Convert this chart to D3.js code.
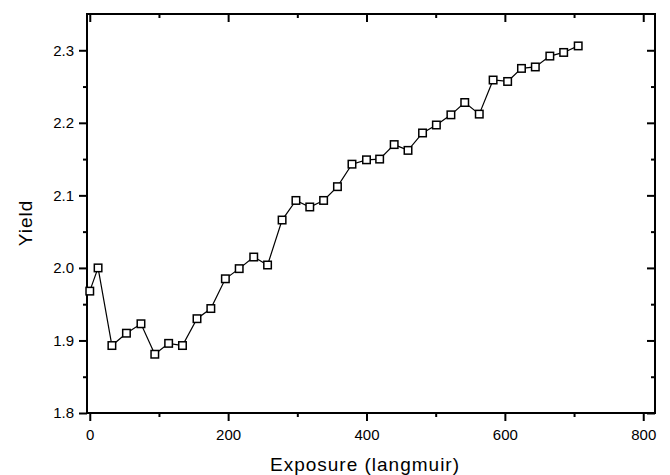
<!DOCTYPE html>
<html><head><meta charset="utf-8">
<script src="https://cdn.jsdelivr.net/npm/d3@7/dist/d3.min.js"></script>
<style>
body{margin:0;background:#fff;}
svg{display:block;}
text{font-family:"Liberation Sans",Arial,Helvetica,sans-serif;fill:#000;}
</style></head>
<body>
<svg id="chart" width="670" height="475"></svg>
<script>
const exposure = [0, 12, 32, 53, 74, 94, 114, 134, 155, 175, 196, 216, 237, 257, 278, 298, 318, 338, 358, 379, 400, 419, 440, 460, 481, 501, 522, 542, 563, 583, 604, 624, 644, 665, 685, 706];
const yieldVals = [1.968, 2.000, 1.893, 1.910, 1.923, 1.881, 1.896, 1.893, 1.930, 1.944, 1.985, 1.999, 2.015, 2.004, 2.066, 2.093, 2.084, 2.093, 2.112, 2.143, 2.149, 2.150, 2.170, 2.162, 2.186, 2.197, 2.211, 2.228, 2.212, 2.259, 2.257, 2.275, 2.277, 2.292, 2.297, 2.306];
const xMajorTicks = [0, 200, 400, 600, 800];
const xMinorTicks = [100, 300, 500, 700];
const yMajorTicks = [1.8, 1.9, 2.0, 2.1, 2.2, 2.3];
const yMinorTicks = [1.85, 1.95, 2.05, 2.15, 2.25];
const xLabel = "Exposure (langmuir)";
const yLabel = "Yield";

const svg = d3.select("#chart");
const L = 87, R = 655, T = 14, B = 413;
const x = d3.scaleLinear().domain([-4, 817]).range([L, R]);
const y = d3.scaleLinear().domain([1.8, 2.35]).range([B, T]);

function styleAxis(g){
  g.select(".domain").remove();
  g.selectAll(".tick line").attr("stroke","#000").attr("stroke-width",2);
  g.selectAll(".tick text").style("font-size","15px").attr("fill","#000");
}
// bottom
svg.append("g").attr("transform",`translate(0,${B})`)
  .call(d3.axisBottom(x).tickValues(xMajorTicks).tickSize(8).tickPadding(8).tickFormat(d3.format("d")))
  .call(styleAxis);
svg.append("g").attr("transform",`translate(0,${B})`)
  .call(d3.axisBottom(x).tickValues(xMinorTicks).tickSize(4).tickFormat(""))
  .call(styleAxis);
// top (inward)
svg.append("g").attr("transform",`translate(0,${T})`)
  .call(d3.axisBottom(x).tickValues(xMajorTicks).tickSize(8).tickFormat(""))
  .call(styleAxis);
svg.append("g").attr("transform",`translate(0,${T})`)
  .call(d3.axisBottom(x).tickValues(xMinorTicks).tickSize(4).tickFormat(""))
  .call(styleAxis);
// left
svg.append("g").attr("transform",`translate(${L},0)`)
  .call(d3.axisLeft(y).tickValues(yMajorTicks).tickSize(8).tickPadding(5).tickFormat(d3.format(".1f")))
  .call(styleAxis);
svg.append("g").attr("transform",`translate(${L},0)`)
  .call(d3.axisLeft(y).tickValues(yMinorTicks).tickSize(4).tickFormat(""))
  .call(styleAxis);
// right (inward)
svg.append("g").attr("transform",`translate(${R},0)`)
  .call(d3.axisLeft(y).tickValues(yMajorTicks).tickSize(8).tickFormat(""))
  .call(styleAxis);
svg.append("g").attr("transform",`translate(${R},0)`)
  .call(d3.axisLeft(y).tickValues(yMinorTicks).tickSize(4).tickFormat(""))
  .call(styleAxis);

// frame
svg.append("rect").attr("x",L).attr("y",T).attr("width",R-L).attr("height",B-T)
  .attr("fill","none").attr("stroke","#000").attr("stroke-width",2);

const data = exposure.map((e,i)=>({x:e,y:yieldVals[i]}));
svg.append("path").datum(data)
  .attr("fill","none").attr("stroke","#000").attr("stroke-width",1.2)
  .attr("d", d3.line().x(d=>x(d.x)).y(d=>y(d.y)));

const s = 7.5;
svg.append("g").selectAll("rect").data(data).join("rect")
  .attr("x",d=>x(d.x)-s/2).attr("y",d=>y(d.y)-s/2)
  .attr("width",s).attr("height",s)
  .attr("fill","#fff").attr("stroke","#000").attr("stroke-width",1.5);

svg.append("text").attr("x",365).attr("y",471).attr("text-anchor","middle")
  .style("font-size","19px").style("letter-spacing","1px").text(xLabel);
svg.append("text").attr("transform","translate(31.5,223) rotate(-90)").attr("text-anchor","middle")
  .style("font-size","19px").style("letter-spacing","1px").text(yLabel);
</script>
</body></html>
